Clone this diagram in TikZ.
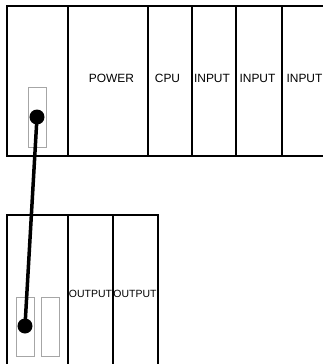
\documentclass[tikz,border=0pt]{standalone}
\usepackage{fontspec}
\setmainfont{Liberation Sans}
\begin{document}
\begin{tikzpicture}[x=1bp,y=-1bp,
  rack/.style={line width=2bp},
  slot/.style={draw=gray!70, line width=0.8bp},
  plug/.style={circle, fill=black, minimum size=15bp, inner sep=0pt},
  cable/.style={line width=3.5bp},
  biglabel/.style={inner sep=0pt, font=\fontsize{12}{14}\selectfont},
  smalllabel/.style={inner sep=0pt, font=\fontsize{10.5}{12}\selectfont}]
\useasboundingbox (0,0) rectangle (323,364);
% top rack
\draw[rack] (323,6) -- (7,6) -- (7,156) -- (323,156);
\foreach \x in {68,148,192,236,282} \draw[rack] (\x,6) -- (\x,156);
\draw[slot] (28,87) rectangle (46,147);
\node[biglabel] (power) at (111.5,78.5) {POWER};
\node[biglabel] (cpu) at (167.5,78.5) {CPU};
\node[biglabel] (in1) at (212,78.5) {INPUT};
\node[biglabel] (in2) at (257.5,78.5) {INPUT};
\node[biglabel] (in3) at (304.5,78.5) {INPUT};
% bottom rack
\draw[rack] (7,364) -- (7,215) -- (158,215) -- (158,364);
\foreach \x in {68,113} \draw[rack] (\x,215) -- (\x,364);
\draw[slot] (16,297) rectangle (34,356);
\draw[slot] (41,297) rectangle (59,356);
\node[smalllabel] (out1) at (90.5,293.5) {OUTPUT};
\node[smalllabel] (out2) at (135,293.5) {OUTPUT};
% cable
\node[plug] (p1) at (37,117) {};
\node[plug] (p2) at (25,326) {};
\draw[cable] (p1.center) -- (p2.center);
\end{tikzpicture}
\end{document}
